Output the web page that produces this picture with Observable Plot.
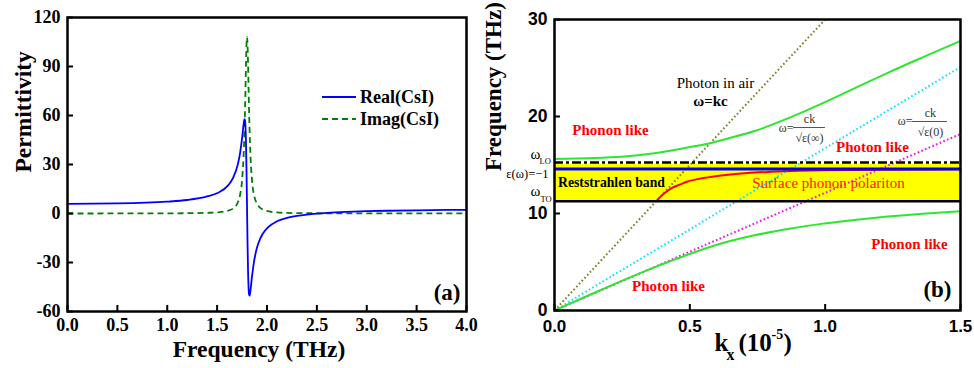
<!DOCTYPE html>
<html><head><meta charset="utf-8">
<script src="https://cdn.jsdelivr.net/npm/d3@7"></script>
<script src="https://cdn.jsdelivr.net/npm/@observablehq/plot@0.6"></script>
<style>
body{margin:0;background:#fff}
#wrap{position:relative;display:flex;width:974px;height:368px;overflow:hidden}
#legend{position:absolute;left:322px;top:86px;font-family:'Liberation Serif','Times New Roman',serif;font-weight:bold;font-size:18px;color:#000}
#legend .row{display:flex;align-items:center;height:22px}
#legend svg{width:35px;height:10px;margin-right:3px}
</style>
</head><body><div id="wrap"><div id="legend"></div></div>
<script>
// ---------- Panel (a) data ----------
const realFreq = [0, 0.5, 1.0, 1.2, 1.4, 1.51, 1.61, 1.66, 1.71, 1.73, 1.75, 1.77, 1.775, 1.78, 1.79, 1.795, 1.80, 1.805, 1.81, 1.815, 1.82, 1.825, 1.83, 1.85, 1.87, 1.89, 1.91, 1.96, 2.01, 2.1, 2.2, 2.3, 2.4, 2.5, 2.6, 2.8, 3.0, 3.2, 3.5, 3.8, 4.0];
const realEps  = [5.9, 6.15, 7.22, 8.27, 10.47, 12.74, 17.22, 21.79, 30.71, 36.98, 46.0, 56.55, 57.8, 56.8, 41.7, 24.7, 3.0, -18.5, -35.1, -45.1, -49.5, -50.3, -49.0, -38.4, -29.4, -23.2, -18.8, -12.16, -8.51, -4.7, -2.68, -1.46, -0.64, -0.05, 0.39, 1.0, 1.4, 1.68, 1.97, 2.17, 2.27];
const imagFreq = [0, 0.5, 1.0, 1.2, 1.4, 1.51, 1.61, 1.66, 1.71, 1.73, 1.75, 1.77, 1.78, 1.79, 1.795, 1.80, 1.805, 1.81, 1.82, 1.83, 1.85, 1.87, 1.89, 1.91, 1.96, 2.01, 2.1, 2.2, 2.3, 2.5, 3.0, 4.0];
const imagEps  = [0, 0.03, 0.09, 0.17, 0.4, 0.74, 1.7, 3.09, 7.2, 11.42, 20.35, 42.5, 64.2, 92.6, 103.9, 108.1, 103.4, 91.7, 63.4, 41.9, 20.1, 11.3, 7.15, 4.9, 2.37, 1.39, 0.64, 0.36, 0.25, 0.15, 0.07, 0.03];
const ticksA_x = [0, 0.5, 1.0, 1.5, 2.0, 2.5, 3.0, 3.5, 4.0];
const ticksA_y = [-60, -30, 0, 30, 60, 90, 120];

// ---------- Panel (b) data ----------
const kAir = [0, 1.0], wAir = [0, 30];
const kInf = [0, 1.5], wInf = [0, 25.1];
const kZero = [0, 1.5], wZero = [0, 18.2];
const kUpper = [0, 0.123, 0.246, 0.369, 0.492, 0.567, 0.65, 0.739, 0.862, 0.985, 1.108, 1.231, 1.36, 1.5];
const wUpper = [15.62, 15.7, 15.84, 16.2, 16.8, 17.2, 17.8, 18.5, 19.8, 21.3, 22.9, 24.5, 26.1, 27.8];
const kLower = [0, 0.123, 0.246, 0.369, 0.492, 0.616, 0.739, 0.862, 0.985, 1.108, 1.231, 1.36, 1.5];
const wLower = [0, 1.52, 3.02, 4.45, 5.75, 6.9, 7.75, 8.4, 8.93, 9.33, 9.68, 9.98, 10.24];
const kSPP = [0.376, 0.40, 0.431, 0.465, 0.492, 0.55, 0.589, 0.65, 0.712, 0.8, 0.9, 1.0, 1.2, 1.5];
const wSPP = [11.27, 11.95, 12.6, 13.0, 13.3, 13.65, 13.82, 14.02, 14.17, 14.3, 14.4, 14.47, 14.52, 14.55];
const wTO = 11.27, wBandTop = 15.05, wEpsM1 = 14.6, wLO = 15.25;
const ticksB_x = [0, 0.5, 1.0, 1.5];
const ticksB_y = [0, 10, 20, 30];

const zip = (xs, ys, kx, ky) => xs.map((v, i) => ({[kx]: v, [ky]: ys[i]}));
const SERIF = "'Liberation Serif','Times New Roman',serif";
const SANS = "'Liberation Sans',Arial,sans-serif";

// ---------- Panel (a) ----------
const left = Plot.plot({
  width: 480, height: 368,
  marginLeft: 67, marginRight: 14, marginTop: 17, marginBottom: 57,
  x: {domain: [0, 4]},
  y: {domain: [-60, 120]},
  style: {fontFamily: SERIF, fontWeight: "bold", background: "white", overflow: "visible"},
  marks: [
    Plot.line(zip(imagFreq, imagEps, "f", "e"), {x: "f", y: "e", stroke: "#008000", strokeWidth: 1.8, strokeDasharray: "6,4", strokeLinecap: "butt", curve: "monotone-x"}),
    Plot.line(zip(realFreq, realEps, "f", "e"), {x: "f", y: "e", stroke: "#0000ff", strokeWidth: 1.8, curve: "monotone-x"}),
    Plot.ruleX(ticksA_x, {x: d => d, y1: -60, y2: -56.3, strokeWidth: 2}),
    Plot.ruleY(ticksA_y, {y: d => d, x1: 0, x2: 0.06, strokeWidth: 2}),
    Plot.frame({strokeWidth: 2.5}),
    Plot.axisX(ticksA_x, {tickSize: 0, tickPadding: 7, fontSize: 18, tickFormat: d => d.toFixed(1), label: null}),
    Plot.axisY(ticksA_y, {tickSize: 0, tickPadding: 7, fontSize: 18, tickFormat: d => String(d), label: null}),
    Plot.text(["Frequency (THz)"], {frameAnchor: "bottom", text: d => d, dx: -8, dy: 45, fontSize: 23.5, fontWeight: "bold"}),
    Plot.text(["Permittivity"], {frameAnchor: "left", text: d => d, rotate: -90, dx: -44, dy: 8, fontSize: 23.5, fontWeight: "bold"}),
    Plot.text(["(a)"], {frameAnchor: "bottom-right", text: d => d, dx: -6, dy: -12, fontSize: 23, fontWeight: "bold"})
  ]
});

// ---------- Panel (b) ----------
const toData = (gx, gy) => [(gx - 554) / 270.7, (310 - gy) / 9.7];
const labelsRed = [
  {t: "Phonon like", p: toData(610, 130)},
  {t: "Photon like", p: toData(872, 147)},
  {t: "Phonon like", p: toData(909, 244)},
  {t: "Photon like", p: toData(668, 286)}
].map(d => ({t: d.t, k: d.p[0], w: d.p[1]}));

const dotted = {strokeWidth: 2, strokeDasharray: "1.6,2.4", strokeLinecap: "butt"};

const right = Plot.plot({
  width: 494, height: 368,
  marginLeft: 74, marginRight: 14, marginTop: 19, marginBottom: 58,
  x: {domain: [0, 1.5]},
  y: {domain: [0, 30]},
  style: {fontFamily: SERIF, fontWeight: "bold", background: "white", overflow: "visible"},
  marks: [
    Plot.rect([0], {x1: 0, x2: 1.5, y1: wTO, y2: wBandTop, fill: "#ffff00"}),
    Plot.line(zip(kAir, wAir, "k", "w"), {x: "k", y: "w", stroke: "#7d7d25", ...dotted, clip: true}),
    Plot.line(zip(kInf, wInf, "k", "w"), {x: "k", y: "w", stroke: "#00e8ff", ...dotted}),
    Plot.line(zip(kZero, wZero, "k", "w"), {x: "k", y: "w", stroke: "#ff00ff", ...dotted}),
    Plot.line(zip(kUpper, wUpper, "k", "w"), {x: "k", y: "w", stroke: "#2ee62e", strokeWidth: 2, curve: "monotone-x"}),
    Plot.line(zip(kLower, wLower, "k", "w"), {x: "k", y: "w", stroke: "#2ee62e", strokeWidth: 2, curve: "monotone-x"}),
    Plot.line(zip(kSPP, wSPP, "k", "w"), {x: "k", y: "w", stroke: "#ff0000", strokeWidth: 2, curve: "monotone-x"}),
    Plot.ruleY([wTO], {stroke: "#000", strokeWidth: 2.5}),
    Plot.ruleY([wEpsM1], {stroke: "#0000ff", strokeWidth: 3}),
    Plot.ruleY([wLO], {stroke: "#000", strokeWidth: 2.5, strokeDasharray: "9,3,3,3"}),
    Plot.ruleX(ticksB_x, {x: d => d, y1: 0, y2: 0.62, strokeWidth: 2}),
    Plot.ruleY(ticksB_y, {y: d => d, x1: 0, x2: 0.022, strokeWidth: 2}),
    Plot.frame({strokeWidth: 2.5}),
    Plot.axisX(ticksB_x, {tickSize: 0, tickPadding: 9, fontSize: 17, fontFamily: SANS, tickFormat: d => d.toFixed(1), label: null}),
    Plot.axisY(ticksB_y, {tickSize: 0, tickPadding: 7, fontSize: 17.5, fontFamily: SANS, tickFormat: d => String(d), label: null}),
    // axis titles
    Plot.text(["Frequency (THz)"], {frameAnchor: "left", text: d => d, rotate: -90, dx: -61, dy: 6, fontSize: 23, fontWeight: "bold"}),
    Plot.text(["k"], {frameAnchor: "bottom", text: d => d, textAnchor: "start", dx: -43, dy: 40, fontSize: 25, fontWeight: "bold"}),
    Plot.text(["x"], {frameAnchor: "bottom", text: d => d, textAnchor: "start", dx: -31, dy: 49, fontSize: 16, fontWeight: "bold"}),
    Plot.text(["(10"], {frameAnchor: "bottom", text: d => d, textAnchor: "start", dx: -19, dy: 40, fontSize: 25, fontWeight: "bold"}),
    Plot.text(["-5"], {frameAnchor: "bottom", text: d => d, textAnchor: "start", dx: 14, dy: 28, fontSize: 14, fontWeight: "bold"}),
    Plot.text([")"], {frameAnchor: "bottom", text: d => d, textAnchor: "start", dx: 26, dy: 40, fontSize: 25, fontWeight: "bold"}),
    // level labels left of the frame
    Plot.text(["\u03C9"], {frameAnchor: "left", y: () => toData(0, 154)[1], text: d => d, dx: -24, fontSize: 15, fontWeight: "normal"}),
    Plot.text(["LO"], {frameAnchor: "left", y: () => toData(0, 161)[1], text: d => d, dx: -15, fontSize: 8.5, fontWeight: "normal"}),
    Plot.text(["\u03B5(\u03C9)=\u22121"], {frameAnchor: "left", y: () => toData(0, 173.5)[1], text: d => d, textAnchor: "end", dx: -6, fontSize: 12.5, fontWeight: "normal"}),
    Plot.text(["\u03C9"], {frameAnchor: "left", y: () => toData(0, 191)[1], text: d => d, dx: -24, fontSize: 15, fontWeight: "normal"}),
    Plot.text(["TO"], {frameAnchor: "left", y: () => toData(0, 199)[1], text: d => d, dx: -14, fontSize: 8.5, fontWeight: "normal"}),
    // annotations
    Plot.text(labelsRed, {x: "k", y: "w", text: "t", fill: "#ff0000", fontSize: 15, fontWeight: "bold"}),
    Plot.text(["Photon in air"], {x: () => toData(715, 0)[0], y: () => toData(0, 83)[1], text: d => d, fontSize: 15, fontWeight: "normal"}),
    Plot.text(["\u03C9=kc"], {x: () => toData(710, 0)[0], y: () => toData(0, 101)[1], text: d => d, fontSize: 15, fontWeight: "bold"}),
    Plot.text(["Reststrahlen band"], {x: () => toData(611, 0)[0], y: () => toData(0, 182)[1], text: d => d, fontSize: 13.7, fontWeight: "bold"}),
    Plot.text(["Surface phonon polariton"], {x: () => toData(828, 0)[0], y: () => toData(0, 183)[1], text: d => d, fill: "#ff2200", fontSize: 15, fontWeight: "normal"}),
    Plot.text(["(b)"], {frameAnchor: "bottom-right", text: d => d, dx: -9, dy: -14, fontSize: 23, fontWeight: "bold"}),
    // formula 1: omega = ck / sqrt(eps(inf))
    Plot.text(["\u03C9="], {x: () => toData(793, 0)[0], y: () => toData(0, 128)[1], text: d => d, textAnchor: "end", fill: "#333", fontSize: 12, fontWeight: "normal"}),
    Plot.text(["ck"], {x: () => toData(809, 0)[0], y: () => toData(0, 119)[1], text: d => d, fill: "#333", fontSize: 12, fontWeight: "normal"}),
    Plot.ruleY([toData(0, 127)[1]], {y: d => d, x1: toData(793, 0)[0], x2: toData(825, 0)[0], stroke: "#555", strokeWidth: 1}),
    Plot.text(["\u221A\u03B5(\u221E)"], {x: () => toData(809, 0)[0], y: () => toData(0, 138)[1], text: d => d, fill: "#333", fontSize: 12, fontWeight: "normal"}),
    // formula 2: omega = ck / sqrt(eps(0))
    Plot.text(["\u03C9="], {x: () => toData(912, 0)[0], y: () => toData(0, 121)[1], text: d => d, textAnchor: "end", fill: "#333", fontSize: 12, fontWeight: "normal"}),
    Plot.text(["ck"], {x: () => toData(930, 0)[0], y: () => toData(0, 113)[1], text: d => d, fill: "#333", fontSize: 12, fontWeight: "normal"}),
    Plot.ruleY([toData(0, 121)[1]], {y: d => d, x1: toData(912, 0)[0], x2: toData(947, 0)[0], stroke: "#555", strokeWidth: 1}),
    Plot.text(["\u221A\u03B5(0)"], {x: () => toData(930, 0)[0], y: () => toData(0, 132)[1], text: d => d, fill: "#333", fontSize: 12, fontWeight: "normal"})
  ]
});

const wrap = document.getElementById("wrap");
wrap.insertBefore(left, wrap.firstChild);
wrap.insertBefore(right, document.getElementById("legend"));

// legend for panel (a)
const legendItems = [
  {name: "Real(CsI)", color: "#0000ff", dash: null},
  {name: "Imag(CsI)", color: "#008000", dash: "6,4"}
];
const lg = d3.select("#legend");
for (const it of legendItems) {
  const row = lg.append("div").attr("class", "row");
  const s = row.append("svg");
  s.append("line").attr("x1", 0).attr("x2", 34).attr("y1", 5).attr("y2", 5)
    .attr("stroke", it.color).attr("stroke-width", 2).attr("stroke-dasharray", it.dash);
  row.append("span").text(it.name);
}
</script>
</body></html>
